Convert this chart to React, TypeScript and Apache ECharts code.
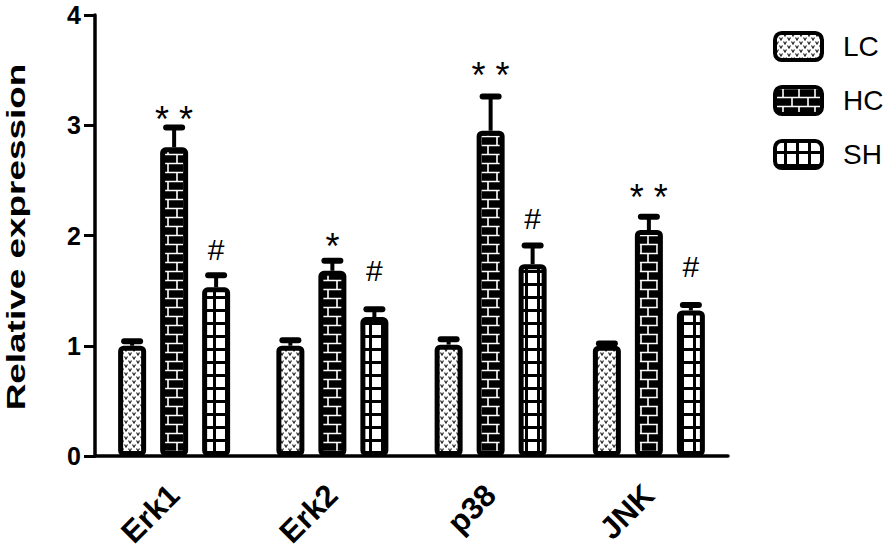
import React, { useEffect, useRef } from "react";
import * as echarts from "echarts";

const categories = ["Erk1", "Erk2", "p38", "JNK"];
const groups = ["LC", "HC", "SH"];
const lcValues = [1.0, 1.0, 1.01, 1.0];
const hcValues = [2.8, 1.68, 2.95, 2.05];
const shValues = [1.53, 1.26, 1.74, 1.32];
const lcErrors = [0.04, 0.05, 0.05, 0.02];
const hcErrors = [0.18, 0.09, 0.31, 0.12];
const shErrors = [0.11, 0.07, 0.17, 0.05];
const lcMarks = ["", "", "", ""];
const hcMarks = ["**", "*", "**", "**"];
const shMarks = ["#", "#", "#", "#"];
const yTicks = [0, 1, 2, 3, 4];

const FONT = "'Liberation Sans', Arial, Helvetica, sans-serif";

// pixel gap between error-bar cap and its significance mark (styling only)
const MARK_LIFT: Record<number, number[]> = {
  0: [0, 0, 0, 0],
  1: [8, 14, 21, 19],
  2: [26, 39, 27, 38],
};

function makeCanvas(w: number, h: number, draw: (c: CanvasRenderingContext2D) => void) {
  const cv = document.createElement("canvas");
  cv.width = w;
  cv.height = h;
  const ctx = cv.getContext("2d")!;
  draw(ctx);
  return cv;
}

export default function App() {
  const ref = useRef<HTMLDivElement>(null);
  useEffect(() => {
    if (!ref.current) return;
    const chart = echarts.init(ref.current, null, { renderer: "svg" });

    const lcCanvas = makeCanvas(8, 8, (c) => {
      c.fillStyle = "#fff";
      c.fillRect(0, 0, 8, 8);
      c.strokeStyle = "#222";
      c.lineWidth = 1.2;
      const v = (x: number, y: number) => {
        c.beginPath();
        c.moveTo(x, y);
        c.lineTo(x + 1.5, y + 2.5);
        c.lineTo(x + 3, y);
        c.stroke();
      };
      v(0.5, 0.5);
      v(4.5, 4.5);
    });
    const hcCanvas = makeCanvas(16, 18, (c) => {
      c.fillStyle = "#000";
      c.fillRect(0, 0, 16, 18);
      c.strokeStyle = "#fff";
      c.lineWidth = 1.6;
      c.beginPath();
      c.moveTo(0, 1.5); c.lineTo(16, 1.5);
      c.moveTo(0, 10.5); c.lineTo(16, 10.5);
      c.moveTo(8, 1.5); c.lineTo(8, 10.5);
      c.moveTo(1, 10.5); c.lineTo(1, 18);
      c.moveTo(1, 0); c.lineTo(1, 1.5);
      c.stroke();
    });
    const shCanvas = makeCanvas(12, 13, (c) => {
      c.fillStyle = "#000";
      c.fillRect(0, 0, 12, 13);
      c.fillStyle = "#fff";
      c.fillRect(0, 0, 9, 10);
    });
    const pat = (cv: HTMLCanvasElement) => ({
      image: cv,
      repeat: "repeat",
      imageWidth: cv.width,
      imageHeight: cv.height,
    });
    const fills = [pat(lcCanvas), pat(hcCanvas), pat(shCanvas)];
    const valueSets = [lcValues, hcValues, shValues];
    const errSets = [lcErrors, hcErrors, shErrors];
    const markSets = [lcMarks, hcMarks, shMarks];

    const BAR_W = 28;
    const STEP = 42;

    const barSeries = groups.map((g, i) => ({
      name: g,
      type: "bar",
      barWidth: BAR_W,
      barGap: "50%",
      data: valueSets[i],
      itemStyle: {
        color: fills[i] as any,
        borderColor: "#000",
        borderWidth: 5,
        borderRadius: 3,
      },
      z: 2,
    }));

    const errSeries = groups.map((g, i) => ({
      name: g + " error",
      type: "custom",
      z: 5,
      data: categories.map((_, k) => [k, valueSets[i][k], valueSets[i][k] + errSets[i][k]]),
      encode: { x: 0, y: [1, 2] },
      renderItem: (params: any, api: any) => {
        const k = api.value(0);
        const base = api.coord([k, api.value(1)]);
        const top = api.coord([k, api.value(2)]);
        const x = base[0] + (i - 1) * STEP;
        const mark = markSets[i][k];
        const children: any[] = [
          {
            type: "line",
            shape: { x1: x, y1: base[1], x2: x, y2: top[1] },
            style: { stroke: "#000", lineWidth: 4 },
          },
          {
            type: "line",
            shape: { x1: x - 8, y1: top[1], x2: x + 8, y2: top[1] },
            style: { stroke: "#000", lineWidth: 6, lineCap: "round" },
          },
        ];
        if (mark) {
          const isHash = mark === "#";
          children.push({
            type: "text",
            x,
            y: top[1] - MARK_LIFT[i][k],
            style: {
              text: isHash ? "#" : mark.split("").join(" "),
              font: isHash ? `30px ${FONT}` : `36px ${FONT}`,
              fill: "#000",
              textAlign: "center",
              textVerticalAlign: "middle",
            },
          });
        }
        return { type: "group", children };
      },
    }));

    chart.setOption({
      animation: false,
      backgroundColor: "#fff",
      grid: { left: 95, right: 166, top: 15, bottom: 98, containLabel: false },
      legend: {
        data: groups,
        orient: "vertical",
        left: 773,
        top: 31,
        padding: 0,
        itemWidth: 47,
        itemHeight: 27,
        itemGap: 23,
        icon: "roundRect",
        selectedMode: false,
        itemStyle: { borderColor: "#000", borderWidth: 4 },
        textStyle: { fontSize: 28, fontFamily: FONT, color: "#000", padding: [0, 0, 0, 16] },
      },
      graphic: [
        {
          type: "text",
          x: 16,
          y: 237,
          rotation: Math.PI / 2,
          scaleX: 1.42,
          style: {
            text: "Relative expression",
            font: `bold 26px ${FONT}`,
            fill: "#000",
            textAlign: "center",
            textVerticalAlign: "middle",
          },
        },
      ],
      xAxis: {
        type: "category",
        data: categories,
        axisLine: { lineStyle: { color: "#000", width: 3.5 } },
        axisTick: { alignWithLabel: true, length: 14, lineStyle: { color: "#000", width: 3.5 } },
        axisLabel: {
          rotate: 45,
          margin: 34,
          fontSize: 31,
          fontWeight: "bold",
          fontFamily: FONT,
          color: "#000",
        },
      },
      yAxis: {
        type: "value",
        min: yTicks[0],
        max: yTicks[yTicks.length - 1],
        interval: 1,
        axisLine: { show: true, lineStyle: { color: "#000", width: 3.5 } },
        axisTick: { show: true, length: 11, lineStyle: { color: "#000", width: 3 } },
        splitLine: { show: false },
        axisLabel: {
          margin: 14,
          fontSize: 25,
          fontWeight: "bold",
          fontFamily: FONT,
          color: "#000",
        },
      },
      series: [...barSeries, ...errSeries],
    } as any);

    return () => chart.dispose();
  }, []);

  return (
    <div
      ref={ref}
      style={{ position: "fixed", left: 0, top: 0, width: 894, height: 554, background: "#fff" }}
    />
  );
}
